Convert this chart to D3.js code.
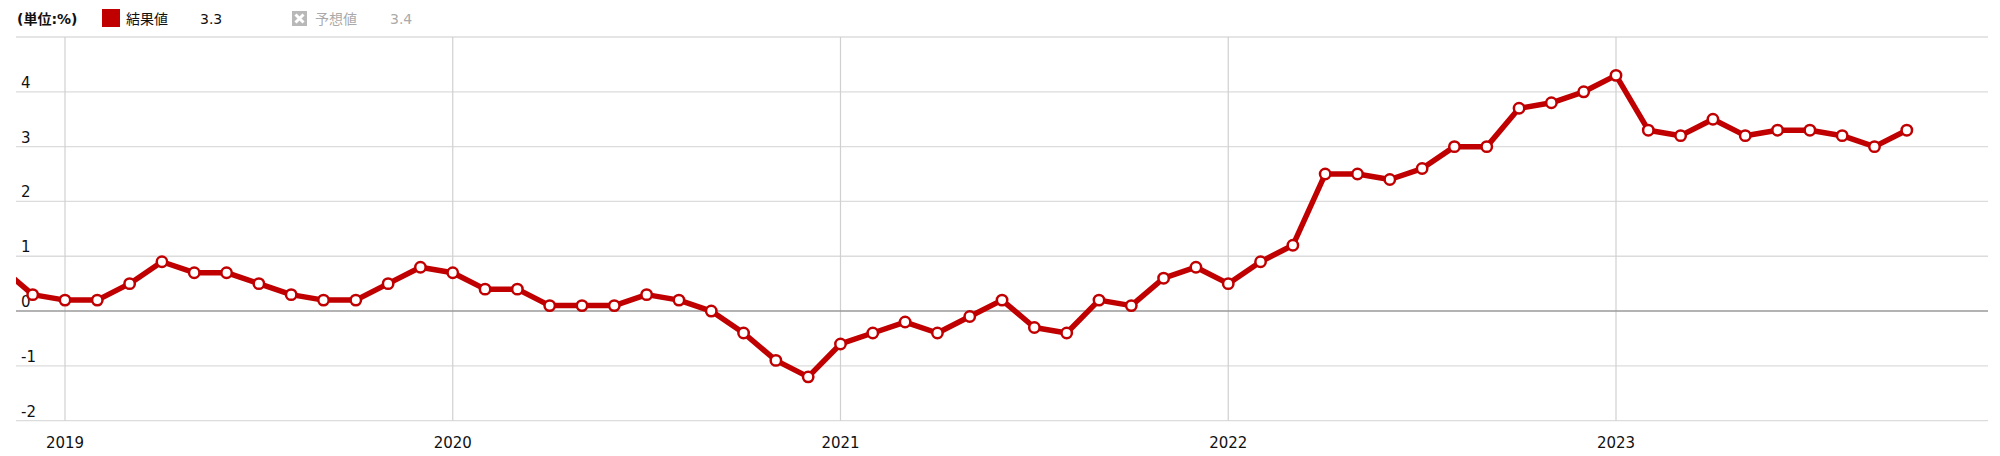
<!DOCTYPE html>
<html>
<head>
<meta charset="utf-8">
<script src="https://cdn.jsdelivr.net/npm/d3@7"></script>
<style>
  html, body { margin: 0; padding: 0; background: #fff; }
  svg { display: block; font-family: "DejaVu Sans", "Noto Sans CJK JP", sans-serif; }
</style>
</head>
<body>
<svg id="chart" width="2000" height="456"></svg>
<script>
// ---- data ----
const months = [
  "2018-11","2018-12",
  "2019-01","2019-02","2019-03","2019-04","2019-05","2019-06","2019-07","2019-08","2019-09","2019-10","2019-11","2019-12",
  "2020-01","2020-02","2020-03","2020-04","2020-05","2020-06","2020-07","2020-08","2020-09","2020-10","2020-11","2020-12",
  "2021-01","2021-02","2021-03","2021-04","2021-05","2021-06","2021-07","2021-08","2021-09","2021-10","2021-11","2021-12",
  "2022-01","2022-02","2022-03","2022-04","2022-05","2022-06","2022-07","2022-08","2022-09","2022-10","2022-11","2022-12",
  "2023-01","2023-02","2023-03","2023-04","2023-05","2023-06","2023-07","2023-08","2023-09","2023-10"
];
const values = [
  0.8, 0.3,
  0.2, 0.2, 0.5, 0.9, 0.7, 0.7, 0.5, 0.3, 0.2, 0.2, 0.5, 0.8,
  0.7, 0.4, 0.4, 0.1, 0.1, 0.1, 0.3, 0.2, 0.0, -0.4, -0.9, -1.2,
  -0.6, -0.4, -0.2, -0.4, -0.1, 0.2, -0.3, -0.4, 0.2, 0.1, 0.6, 0.8,
  0.5, 0.9, 1.2, 2.5, 2.5, 2.4, 2.6, 3.0, 3.0, 3.7, 3.8, 4.0,
  4.3, 3.3, 3.2, 3.5, 3.2, 3.3, 3.3, 3.2, 3.0, 3.3
];
const yearTicks = ["2019","2020","2021","2022","2023"];
const yTicks = [-2, -1, 0, 1, 2, 3, 4, 5];
const yTickLabels = ["-2","-1","0","1","2","3","4",""];
const legendUnit = "(単位:%)";
const legendActual = "結果値";
const legendActualValue = "3.3";
const legendForecast = "予想値";
const legendForecastValue = "3.4";

// ---- layout ----
const svg = d3.select("#chart");
const plotLeft = 16, plotRight = 1988, plotTop = 37, plotBottom = 420.7;
const red = "#c00000";

// month index relative to Jan 2019
const monthIndex = m => { const [yy, mo] = m.split("-").map(Number); return (yy - 2019) * 12 + (mo - 1); };
const x = d3.scaleLinear().domain([0, 48]).range([65, 1616]);
const y = d3.scaleLinear().domain([-2, 5]).range([plotBottom, plotTop]);

// clip
svg.append("defs").append("clipPath").attr("id", "plot")
  .append("rect").attr("x", plotLeft).attr("y", 0).attr("width", plotRight - plotLeft).attr("height", 456);

// horizontal grid
svg.append("g").selectAll("line").data(yTicks.filter(d => d !== 0)).join("line")
  .attr("x1", plotLeft).attr("x2", plotRight)
  .attr("y1", d => y(d)).attr("y2", d => y(d))
  .attr("stroke", "#dcdcdc").attr("stroke-width", 1.3);

// vertical year grid
svg.append("g").selectAll("line").data(yearTicks).join("line")
  .attr("x1", d => x(monthIndex(d + "-01"))).attr("x2", d => x(monthIndex(d + "-01")))
  .attr("y1", plotTop).attr("y2", plotBottom)
  .attr("stroke", "#d0d0d0").attr("stroke-width", 1.2);

// zero line
svg.append("line")
  .attr("x1", plotLeft).attr("x2", plotRight).attr("y1", y(0)).attr("y2", y(0))
  .attr("stroke", "#9a9a9a").attr("stroke-width", 1.6);

// y labels
svg.append("g").selectAll("text").data(yTicks.map((d, i) => ({v: d, t: yTickLabels[i]})).filter(d => d.t)).join("text")
  .attr("x", 21).attr("y", d => y(d.v) - 4)
  .attr("font-size", 15).attr("fill", "#111")
  .text(d => d.t);

// x labels
svg.append("g").selectAll("text").data(yearTicks).join("text")
  .attr("x", d => x(monthIndex(d + "-01"))).attr("y", 448)
  .attr("text-anchor", "middle").attr("font-size", 15).attr("fill", "#111")
  .text(d => d);

// line
const pts = months.map((m, i) => ({i: monthIndex(m), v: values[i]}));
const plot = svg.append("g").attr("clip-path", "url(#plot)");
plot.append("path").datum(pts)
  .attr("d", d3.line().x(d => x(d.i)).y(d => y(d.v)))
  .attr("fill", "none").attr("stroke", red).attr("stroke-width", 5.5)
  .attr("stroke-linejoin", "round");
plot.append("g").selectAll("circle").data(pts).join("circle")
  .attr("cx", d => x(d.i)).attr("cy", d => y(d.v)).attr("r", 5.2)
  .attr("fill", "#fff").attr("stroke", red).attr("stroke-width", 2.5);

// legend
const lg = svg.append("g");
lg.append("text").attr("x", 17).attr("y", 24).attr("font-size", 14).attr("font-weight", "bold").attr("fill", "#111").text(legendUnit);
lg.append("rect").attr("x", 102).attr("y", 9).attr("width", 18).attr("height", 18).attr("fill", red);
lg.append("text").attr("x", 126).attr("y", 24).attr("font-size", 14).attr("fill", "#111").text(legendActual);
lg.append("text").attr("x", 200).attr("y", 24).attr("font-size", 14).attr("fill", "#111").text(legendActualValue);
const ic = lg.append("g").attr("transform", "translate(292,11)");
ic.append("rect").attr("width", 15).attr("height", 15).attr("fill", "#b8b8b8");
ic.append("path").attr("d", "M3.5,3.5 L11.5,11.5 M11.5,3.5 L3.5,11.5").attr("stroke", "#fff").attr("stroke-width", 3);
lg.append("text").attr("x", 315).attr("y", 24).attr("font-size", 14).attr("fill", "#aaa").text(legendForecast);
lg.append("text").attr("x", 390).attr("y", 24).attr("font-size", 14).attr("fill", "#aaa").text(legendForecastValue);
</script>
</body>
</html>
